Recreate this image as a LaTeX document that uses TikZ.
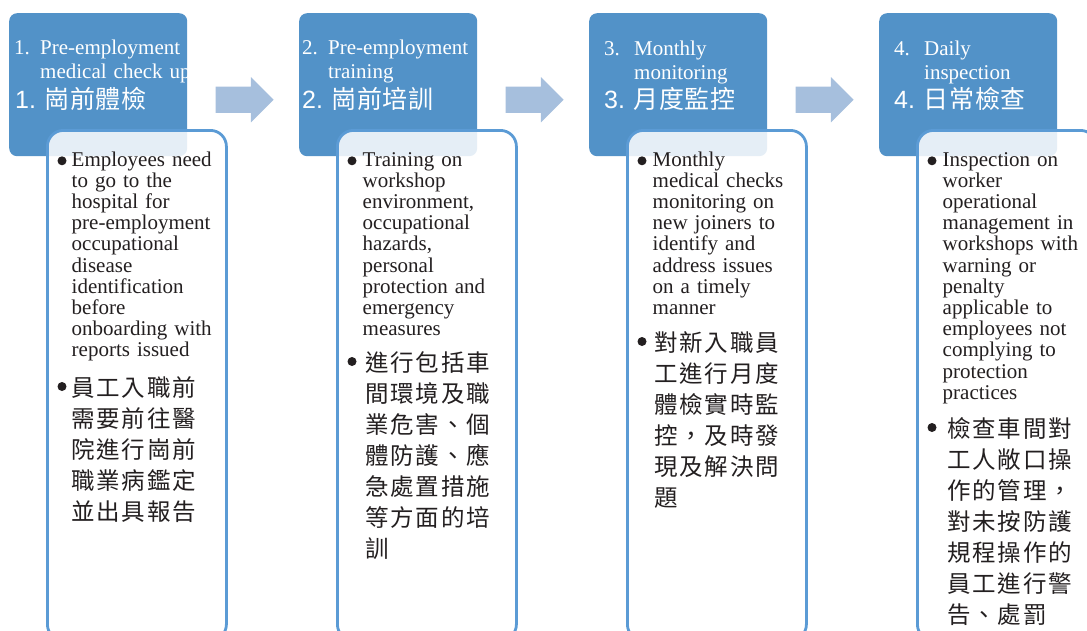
\documentclass[tikz,border=0pt]{standalone}
\usepackage{fontspec}
\setmainfont{Liberation Serif}
\newfontfamily\cjk[LetterSpace=8]{Noto Sans CJK TC}
\newfontfamily\cjkhead[LetterSpace=3]{Noto Sans CJK TC}
\newfontfamily\numsans{Liberation Sans}
\usetikzlibrary{calc,positioning,shapes.arrows}

\definecolor{headblue}{RGB}{82,146,200}
\definecolor{lineblue}{RGB}{91,155,213}
\definecolor{arrowblue}{RGB}{166,191,221}
\definecolor{inkblack}{RGB}{35,31,32}

\tikzset{
  header/.style={fill=headblue, rounded corners=8pt, minimum width=178pt, minimum height=143pt, anchor=north west, inner sep=0pt},
  card/.style={draw=lineblue, line width=2.8pt, fill=white, fill opacity=0.85, rounded corners=16pt, minimum width=179pt, minimum height=510pt, anchor=north west, inner sep=0pt},
  flowarrow/.style={fill=arrowblue, single arrow, single arrow head extend=9.5pt, minimum height=58pt, inner sep=13pt, anchor=tail},
  headtext/.style={text=white, font=\fontsize{21}{24}\selectfont, inner sep=0pt, anchor=base west, text width=160pt, align=left},
  headnum/.style={text=white, font=\fontsize{21}{24}\selectfont, inner sep=0pt, anchor=base west},
  headcjk/.style={text=white, font=\cjkhead\fontsize{25}{28}\selectfont, inner sep=0pt, anchor=base west},
  bodytext/.style={text=inkblack, font=\fontsize{21}{21.2}\selectfont, inner sep=0pt, anchor=base west, text width=150pt, align=left},
  bodycjk/.style={text=inkblack, font=\cjk\fontsize{23.5}{31}\selectfont, inner sep=0pt, anchor=base west, text width=150pt, align=left},
  bulletdot/.style={fill=inkblack}
}

\begin{document}
\begin{tikzpicture}[x=1pt,y=-1pt]
	\useasboundingbox (0,0) rectangle (1087,630);
	% blue headers
	\node[header] (h1) at (9,13) {};
	\node[header] (h2) at (299,13) {};
	\node[header] (h3) at (589,13) {};
	\node[header] (h4) at (879,13) {};
	% white cards over the headers
	\node[card] (c1) at (46,129) {};
	\node[card] (c2) at (336,129) {};
	\node[card] (c3) at (626,129) {};
	\node[card] (c4) at (916,129) {};
	% arrows between the steps
	\node[flowarrow] (a12) at ($(h1.east)+(28,15)$) {};
	\node[flowarrow] (a23) at ($(h2.east)+(28,15)$) {};
	\node[flowarrow] (a34) at ($(h3.east)+(28,15)$) {};

	% step 1
	\node[headnum] (n1) at (14,54) {1.};
	\node[headtext] (t1) at (40,54) {Pre-employment\\medical check up};
	\node[headcjk] (k1) at (15,108.5) {{\numsans 1.} 崗前體檢};
	\fill[bulletdot] (62,160.8) circle (4.5pt);
	\node[bodytext] (e1) at (71.5,166) {Employees need\\to go to the\\hospital for\\pre-employment\\occupational\\disease\\identification\\before\\onboarding with\\reports issued};
	\fill[bulletdot] (62,386.5) circle (4.5pt);
	\node[bodycjk] (z1) at (71,396.5) {員工入職前\\需要前往醫\\院進行崗前\\職業病鑑定\\並出具報告};

	% step 2
	\node[headnum] (n2) at (302,54) {2.};
	\node[headtext] (t2) at (328,54) {Pre-employment\\training};
	\node[headcjk] (k2) at (302,108.5) {{\numsans 2.} 崗前培訓};
	\fill[bulletdot] (352,160.8) circle (4.5pt);
	\node[bodytext] (e2) at (362.5,166) {Training on\\workshop\\environment,\\occupational\\hazards,\\personal\\protection and\\emergency\\measures};
	\fill[bulletdot] (352,361.5) circle (4.5pt);
	\node[bodycjk] (z2) at (365,371.5) {進行包括車\\間環境及職\\業危害、個\\體防護、應\\急處置措施\\等方面的培\\訓};

	% step 3
	\node[headnum] (n3) at (604,55) {3.};
	\node[headtext] (t3) at (634,55) {Monthly\\monitoring};
	\node[headcjk] (k3) at (604,108.5) {{\numsans 3.} 月度監控};
	\fill[bulletdot] (642,160.8) circle (4.5pt);
	\node[bodytext] (e3) at (652.5,166) {Monthly\\medical checks\\monitoring on\\new joiners to\\identify and\\address issues\\on a timely\\manner};
	\fill[bulletdot] (642,341.5) circle (4.5pt);
	\node[bodycjk] (z3) at (654,351.5) {對新入職員\\工進行月度\\體檢實時監\\控，及時發\\現及解決問\\題};

	% step 4
	\node[headnum] (n4) at (894,55) {4.};
	\node[headtext] (t4) at (924,55) {Daily\\inspection};
	\node[headcjk] (k4) at (894,108.5) {{\numsans 4.} 日常檢查};
	\fill[bulletdot] (932,160.8) circle (4.5pt);
	\node[bodytext] (e4) at (942.5,166) {Inspection on\\worker\\operational\\management in\\workshops with\\warning or\\penalty\\applicable to\\employees not\\complying to\\protection\\practices};
	\fill[bulletdot] (932,427.5) circle (4.5pt);
	\node[bodycjk] (z4) at (947,437.5) {檢查車間對\\工人敞口操\\作的管理，\\對未按防護\\規程操作的\\員工進行警\\告、處罰};
\end{tikzpicture}
\end{document}
